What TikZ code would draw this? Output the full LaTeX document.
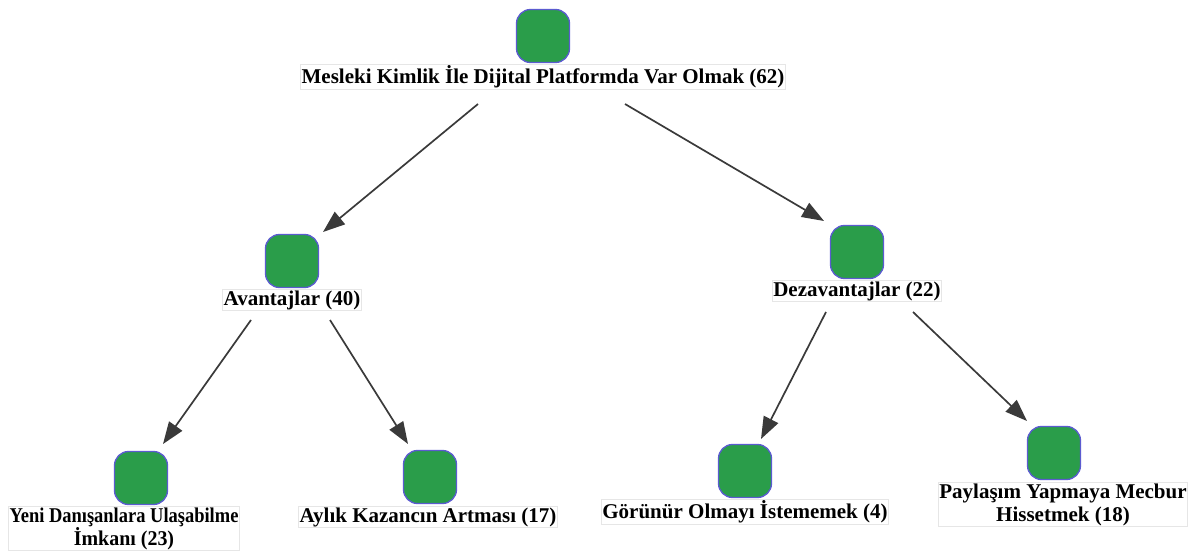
\documentclass[tikz,border=0pt]{standalone}
\usepackage{fontspec}
\setmainfont{Liberation Serif}
\usetikzlibrary{arrows.meta}
\definecolor{codegreen}{HTML}{2A9D4A}
\definecolor{codeedge}{HTML}{5B5BD0}
\definecolor{linkgray}{HTML}{3A3A3A}
\definecolor{framegray}{HTML}{E6E6E6}
\tikzset{
  code/.style={draw=codeedge, line width=1.3pt, fill=codegreen, rounded corners=14pt,
    minimum width=53pt, minimum height=53pt, inner sep=0pt},
  caption/.style={draw=framegray, line width=0.6pt, fill=white, inner xsep=1pt, inner ysep=1pt,
    font=\fontsize{21pt}{23pt}\selectfont\bfseries, align=center},
  link/.style={draw=linkgray, line width=1.7pt,
    -{Triangle[length=22pt, width=16pt]}}
}
\begin{document}
\begin{tikzpicture}[x=1pt, y=-1pt]
\useasboundingbox (0,0) rectangle (1195,553);
% code squares
\node[code] (root) at (543,36) {};
\node[code] (adv)  at (292,261) {};
\node[code] (dis)  at (857,252) {};
\node[code] (new)  at (141,478) {};
\node[code] (inc)  at (430,477) {};
\node[code] (vis)  at (745,471) {};
\node[code] (obl)  at (1054,453) {};
% captions, hanging just below their squares
\node[caption, anchor=north] (rootL) at ([yshift=-1pt]root.south) {Mesleki Kimlik İle Dijital Platformda Var Olmak (62)};
\node[caption, anchor=north] (advL) at ([yshift=-1pt]adv.south) {Avantajlar (40)};
\node[caption, anchor=north] (disL) at ([yshift=-1pt]dis.south) {Dezavantajlar (22)};
\node[caption, anchor=north] (newL) at ([xshift=-17pt,yshift=-1pt]new.south) {\scalebox{0.88}[1]{Yeni Danışanlara Ulaşabilme}\\\scalebox{0.95}[1]{İmkanı (23)}};
\node[caption, anchor=north] (incL) at ([xshift=-2pt,yshift=-2pt]inc.south) {Aylık Kazancın Artması (17)};
\node[caption, anchor=north] (visL) at ([yshift=-1pt]vis.south) {Görünür Olmayı İstememek (4)};
\node[caption, anchor=north] (oblL) at ([xshift=9pt,yshift=-2pt]obl.south) {Paylaşım Yapmaya Mecbur\\Hissetmek (18)};
% connector ends
\coordinate (r1) at (478,104); \coordinate (a1) at (323,232);
\coordinate (r2) at (625,104); \coordinate (d1) at (824,221);
\coordinate (a2) at (251,320); \coordinate (n1) at (163,444);
\coordinate (a3) at (330,320); \coordinate (i1) at (408,444);
\coordinate (d2) at (826,312); \coordinate (v1) at (761,439);
\coordinate (d3) at (913,312); \coordinate (o1) at (1027,421);
% connectors
\draw[link] (r1) -- (a1);
\draw[link] (r2) -- (d1);
\draw[link] (a2) -- (n1);
\draw[link] (a3) -- (i1);
\draw[link] (d2) -- (v1);
\draw[link] (d3) -- (o1);
\end{tikzpicture}
\end{document}
